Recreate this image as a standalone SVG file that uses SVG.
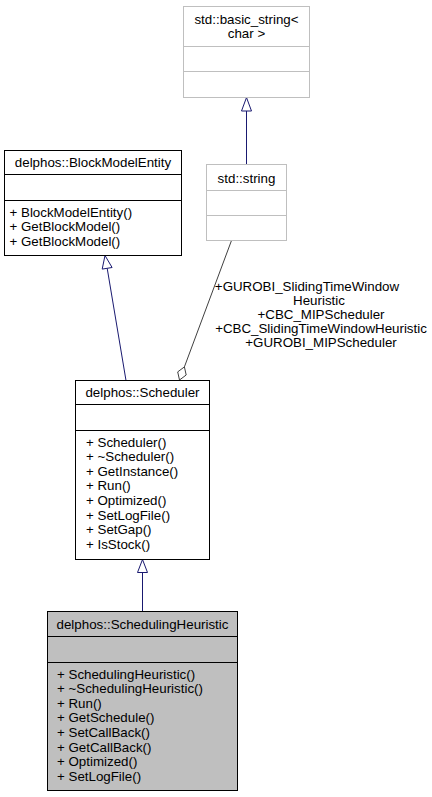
<svg xmlns="http://www.w3.org/2000/svg" width="432" height="797" viewBox="0 0 432 797">
<style>
text{font-family:"Liberation Sans",Arial,Helvetica,sans-serif;font-size:13.33px;fill:#000}
.c{text-anchor:middle}
.box{fill:#fff;stroke:#000;stroke-width:1}
.gbox{fill:#fff;stroke:#bfbfbf;stroke-width:1}
.sel{fill:#bfbfbf;stroke:#000;stroke-width:1}
.sep{stroke:#000;stroke-width:1}
.gsep{stroke:#bfbfbf;stroke-width:1}
.inh{fill:none;stroke:#191970;stroke-width:1}
.inhh{fill:#fff;stroke:#191970;stroke-width:1}
.use{fill:none;stroke:#404040;stroke-width:1}
.useh{fill:#fff;stroke:#404040;stroke-width:1}
</style>
<rect width="432" height="797" fill="#fff"/>
<g id="connectors">
  <path class="inh" d="M246.5,111 L246.5,164.5"/>
  <polygon class="inhh" points="246.5,97.5 251.5,111 241.5,111"/>
  <path class="inh" d="M107.2,268.3 L126,380.5"/>
  <polygon class="inhh" points="105,255.5 112.1,267.5 102.2,269.1"/>
  <path class="inh" d="M142.5,572.5 L142.5,611.5"/>
  <polygon class="inhh" points="142.5,559.5 147.5,572.5 137.5,572.5"/>
  <path class="use" d="M231.5,240.5 L184.4,366.9"/>
  <polygon class="useh" points="179.5,380 177.7,371.9 184.4,366.9 186.2,375"/>
  <g id="edge-label">
    <text class="c" x="307" y="291">+GUROBI_SlidingTimeWindow</text>
    <text class="c" x="319" y="305">Heuristic</text>
    <text class="c" x="321" y="319">+CBC_MIPScheduler</text>
    <text class="c" x="321" y="333">+CBC_SlidingTimeWindowHeuristic</text>
    <text class="c" x="321" y="347">+GUROBI_MIPScheduler</text>
  </g>
</g>
<g id="node-basic_string">
  <rect class="gbox" x="183.5" y="6.5" width="126" height="91"/>
  <line class="gsep" x1="183.5" y1="46.5" x2="309.5" y2="46.5"/>
  <line class="gsep" x1="183.5" y1="71.5" x2="309.5" y2="71.5"/>
  <text class="c" x="246.5" y="23.5">std::basic_string&lt;</text>
  <text class="c" x="246.5" y="38">char &gt;</text>
</g>
<g id="node-string">
  <rect class="gbox" x="206.5" y="164.5" width="80" height="76"/>
  <line class="gsep" x1="206.5" y1="190.5" x2="286.5" y2="190.5"/>
  <line class="gsep" x1="206.5" y1="215.5" x2="286.5" y2="215.5"/>
  <text class="c" x="246.5" y="182.5">std::string</text>
</g>
<g id="node-BlockModelEntity">
  <rect class="box" x="4.5" y="150.5" width="177" height="105"/>
  <line class="sep" x1="4.5" y1="174.5" x2="181.5" y2="174.5"/>
  <line class="sep" x1="4.5" y1="200.5" x2="181.5" y2="200.5"/>
  <text class="c" x="93" y="166.5">delphos::BlockModelEntity</text>
  <text x="9.5" y="216.5">+ BlockModelEntity()</text>
  <text x="9.5" y="231">+ GetBlockModel()</text>
  <text x="9.5" y="245.5">+ GetBlockModel()</text>
</g>
<g id="node-Scheduler">
  <rect class="box" x="75.5" y="380.5" width="134" height="179"/>
  <line class="sep" x1="75.5" y1="404.5" x2="209.5" y2="404.5"/>
  <line class="sep" x1="75.5" y1="430.5" x2="209.5" y2="430.5"/>
  <text class="c" x="142.5" y="396.5">delphos::Scheduler</text>
  <text x="86" y="446.5">+ Scheduler()</text>
  <text x="86" y="461.1">+ ~Scheduler()</text>
  <text x="86" y="475.7">+ GetInstance()</text>
  <text x="86" y="490.3">+ Run()</text>
  <text x="86" y="504.9">+ Optimized()</text>
  <text x="86" y="519.5">+ SetLogFile()</text>
  <text x="86" y="534.1">+ SetGap()</text>
  <text x="86" y="548.7">+ IsStock()</text>
</g>
<g id="node-SchedulingHeuristic">
  <rect class="sel" x="47.5" y="611.5" width="190" height="179"/>
  <line class="sep" x1="47.5" y1="636.5" x2="237.5" y2="636.5"/>
  <line class="sep" x1="47.5" y1="662.5" x2="237.5" y2="662.5"/>
  <text class="c" x="142.5" y="628.5">delphos::SchedulingHeuristic</text>
  <text x="57" y="678.5">+ SchedulingHeuristic()</text>
  <text x="57" y="693.1">+ ~SchedulingHeuristic()</text>
  <text x="57" y="707.7">+ Run()</text>
  <text x="57" y="722.3">+ GetSchedule()</text>
  <text x="57" y="736.9">+ SetCallBack()</text>
  <text x="57" y="751.5">+ GetCallBack()</text>
  <text x="57" y="766.1">+ Optimized()</text>
  <text x="57" y="780.7">+ SetLogFile()</text>
</g>
</svg>
